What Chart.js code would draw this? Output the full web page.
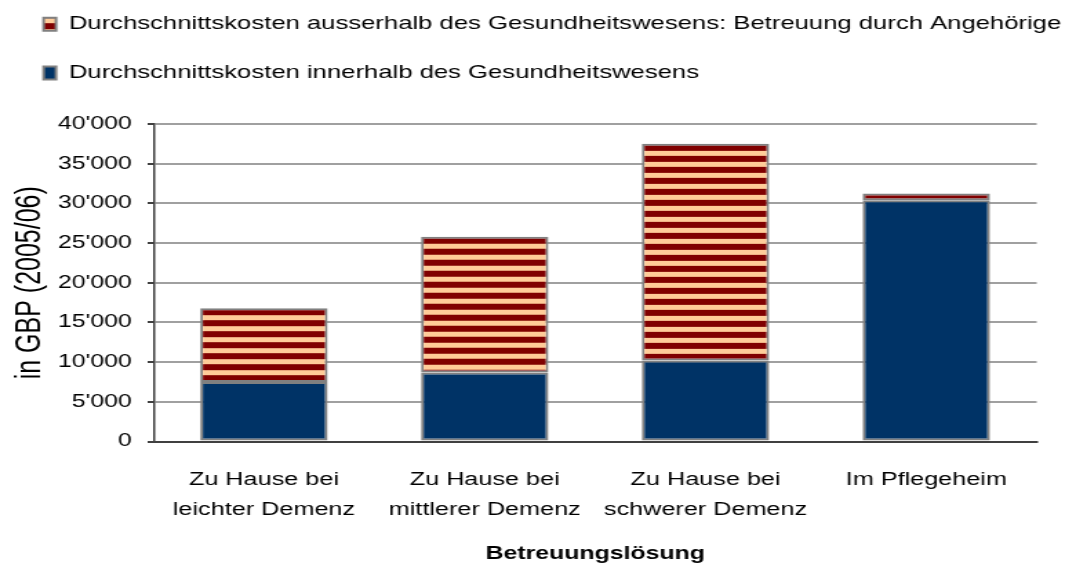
<!DOCTYPE html>
<html>
<head>
<meta charset="utf-8">
<script src="https://cdn.jsdelivr.net/npm/chart.js@4/dist/chart.umd.min.js"></script>
<style>
  html, body { margin: 0; padding: 0; background: #fff; overflow: hidden; }
  /* the reference is horizontally stretched, so draw narrow and stretch */
  #wrap { width: 780px; height: 570px; transform: scaleX(1.37949); transform-origin: 0 0; }
</style>
</head>
<body>
<div id="wrap"><canvas id="chart"></canvas></div>
<script>
'use strict';

const categories = [
  ['Zu Hause bei', 'leichter Demenz'],
  ['Zu Hause bei', 'mittlerer Demenz'],
  ['Zu Hause bei', 'schwerer Demenz'],
  'Im Pflegeheim',
];
const innerhalb  = [7500, 8700, 10200, 30400];   // Kosten innerhalb des Gesundheitswesens
const ausserhalb = [9300, 17100, 27300, 850];    // Betreuung durch Angehörige
const seriesNames = [
  'Durchschnittskosten innerhalb des Gesundheitswesens',
  'Durchschnittskosten ausserhalb des Gesundheitswesens: Betreuung durch Angehörige',
];
const yTicks = [0, 5000, 10000, 15000, 20000, 25000, 30000, 35000, 40000];

const FONT = "'Liberation Sans', Arial, sans-serif";
const fmt = v => String(v).replace(/\B(?=(\d{3})+(?!\d))/g, "'");

// Streifenmuster rot/beige, Start am oberen Rand
const tile = document.createElement('canvas');
tile.width = 4; tile.height = 11;
(() => {
  const g = tile.getContext('2d');
  g.fillStyle = '#FFCC99';
  g.fillRect(0, 0, 4, 11);
  g.fillStyle = '#800000';
  g.fillRect(0, 0, 4, 6);
})();

function stripes(ctx, y0) {
  const p = ctx.createPattern(tile, 'repeat');
  p.setTransform(new DOMMatrix().translate(0, y0));
  return p;
}

function stripeFill(c) {
  const g = c.chart.ctx;
  if (c.type !== 'data') return stripes(g, 15);   // Legendenfeld
  const i = c.dataIndex;
  const top = c.chart.scales.y.getPixelForValue(innerhalb[i] + ausserhalb[i]);
  return stripes(g, top + 1);
}

new Chart(document.getElementById('chart'), {
  type: 'bar',
  data: {
    labels: categories,
    datasets: [{
      label: seriesNames[0],
      data: innerhalb,
      backgroundColor: '#003366',
      borderColor: '#808080',
      borderWidth: 2,
      borderSkipped: false,
    }, {
      label: seriesNames[1],
      data: ausserhalb,
      backgroundColor: stripeFill,
      borderColor: '#808080',
      borderWidth: 2,
      borderSkipped: false,
    }],
  },
  options: {
    responsive: true,
    maintainAspectRatio: false,
    animation: false,
    layout: { padding: { left: 1.6, right: 0, top: -15, bottom: 0 } },
    datasets: { bar: { barPercentage: 0.577, categoryPercentage: 1 } },
    plugins: {
      legend: {
        position: 'top',
        align: 'start',
        reverse: true,
        weight: 3000,
        labels: {
          color: '#000',
          font: { family: FONT, size: 18.6 },
          boxWidth: 9,
          boxHeight: 13,
          padding: 30,
        },
      },
      // Abstandshalter zwischen Legende und Diagramm
      title: {
        display: true,
        text: '',
        font: { size: 10 },
        padding: { top: 0, bottom: 19.8 },
      },
      tooltip: { enabled: false },
    },
    scales: {
      x: {
        stacked: true,
        grid: {
          offset: true,
          drawTicks: false,
          lineWidth: 1.5,
          color: ctx => ctx.index === categories.length ? '#a0a0a0' : 'rgba(0,0,0,0)',
        },
        border: { color: '#404040', width: 2 },
        ticks: {
          color: '#000',
          font: { family: FONT, size: 18.3, lineHeight: 1.64 },
          padding: 23.5,
          maxRotation: 0,
          autoSkip: false,
        },
        title: {
          display: true,
          text: 'Betreuungslösung',
          color: '#000',
          font: { family: FONT, size: 18, weight: 'bold' },
          padding: { top: 0, bottom: 5 },
        },
        afterFit: s => { s.height = 128.5; },
      },
      y: {
        stacked: true,
        min: 0,
        max: 40000,
        afterBuildTicks: s => { s.ticks = yTicks.map(v => ({ value: v })); },
        grid: {
          color: ctx => ctx.tick && ctx.tick.value === 0 ? '#404040' : '#a0a0a0',
          lineWidth: 2,
          tickLength: 4.3,
          tickColor: '#404040',
          tickWidth: 2,
        },
        border: { color: '#404040', width: 1.5 },
        ticks: {
          color: '#000',
          font: { family: FONT, size: 18 },
          padding: 11.5,
          callback: v => fmt(v),
        },
        title: {
          display: true,
          text: 'in GBP (2005/06)',
          color: '#000',
          font: { family: FONT, size: 25 },
          padding: { top: 6, bottom: 0 },
        },
        afterFit: s => { s.width = 109.7; },
      },
      // leerer Rand rechts (damit die Legende nicht abgeschnitten wird)
      rechts: {
        type: 'linear',
        position: 'right',
        grid: { display: false, drawTicks: false },
        border: { display: false },
        ticks: { display: false },
        afterFit: s => { s.width = 28.5; },
      },
    },
  },
});
</script>
</body>
</html>
